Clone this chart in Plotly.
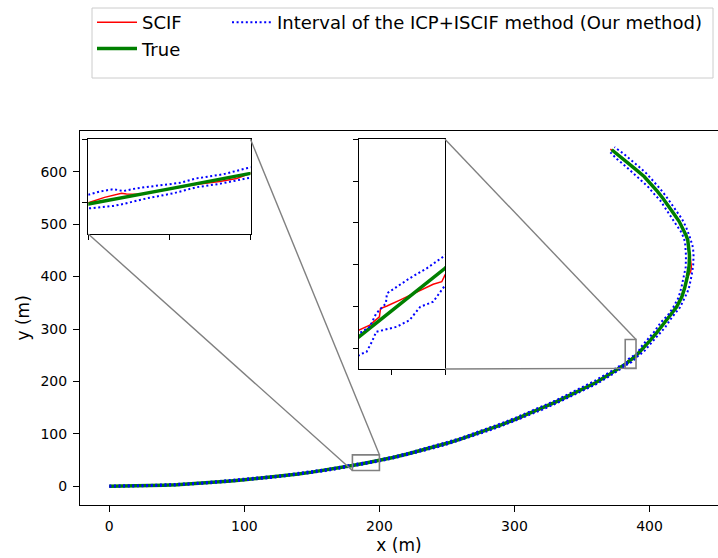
import plotly.graph_objects as go

# ---------------- data ----------------
true_x = [0, 10, 20, 30, 40, 50, 60, 70, 80, 90, 100, 110, 120, 130, 140, 150, 160, 170, 180,
          190, 200, 210, 220, 230, 240, 250, 260, 270, 280, 290, 300, 310, 320, 330, 340, 350, 360, 370,
          378, 382, 390, 395, 400, 405, 410, 415, 420, 424, 426, 428, 429.3, 429.6, 429.2, 428.3, 427, 425,
          422, 418, 414, 410, 406, 401, 396, 390, 384, 378, 372]
true_y = [0, 0.2, 0.6, 1.2, 2.0, 3.0, 4.5, 6.2, 8.2, 10.3, 12.5, 15.0, 17.6, 20.5, 23.6, 27.0, 30.8, 35.0, 39.5,
          44.3, 49.2, 54.8, 61.0, 67.5, 74.5, 82.0, 90.0, 98.5, 107.5, 117.0, 127.0, 137.5, 148.5, 160.0, 172.5, 185.0, 197.5, 213.0,
          226.0, 232.7, 249.1, 262.0, 277.0, 292.0, 308.0, 325.0, 342.0, 362.0, 378.0, 400.0, 420.0, 440.0, 455.0, 470.0, 479.0, 491.0,
          505.0, 520.0, 535.0, 549.0, 562.0, 577.0, 591.0, 604.0, 617.0, 630.0, 642.0]

scif_x = [0, 10, 20, 30, 40, 50, 60, 70, 80, 90, 100, 110, 120, 130, 140, 150, 160, 170,
          178, 180, 182, 184.1, 184.7, 186.5, 190, 193, 196.2, 198.3, 200,
          210, 220, 230, 240, 250, 260, 270, 280, 290, 300, 305, 310, 320, 330, 340, 350, 360, 370, 378,
          382, 383.0, 383.9, 384.0, 384.6, 385.8, 387.4, 388.9, 389.7, 390,
          391, 395, 400, 405, 410, 415, 420, 424, 426, 428,
          430.5, 431, 430, 429.2, 428.3, 427, 425, 422, 418, 414, 410, 406, 401, 396, 390, 384, 378, 371]
scif_y = [0.4, 0.1, 0.9, 1.0, 2.4, 2.7, 4.8, 6.0, 8.6, 10.0, 12.9, 14.7, 18.0, 20.2, 24.0, 26.7, 31.2, 34.6,
          38.6, 39.9, 41.6, 42.9, 42.7, 42.6, 44.3, 45.6, 46.6, 47.6, 49.2,
          54.2, 61.6, 67.0, 75.2, 81.4, 90.8, 97.8, 108.2, 116.2, 126.0, 130.0, 138.4, 147.8, 160.8, 171.6, 186.0, 196.8, 213.8, 227.6,
          234.3, 235.5, 237.5, 239.5, 240.1, 241.5, 243.5, 245.3, 245.9, 247.5,
          250.5, 261.0, 278.2, 290.5, 309.2, 323.8, 343.4, 361.0, 379.5, 398.0,
          410.0, 418.0, 440.0, 455.0, 469.0, 479.5, 490.0, 505.5, 519.0, 535.5, 548.0, 562.5, 576.0, 591.5, 603.5, 617.5, 629.0, 643.0]

# interval of the ICP+ISCIF method: inner bound
int_in_x = [0, 10, 20, 30, 40, 50, 60, 70, 80, 90, 100, 110, 120, 130, 140, 150, 160, 170,
            178, 180, 181.5, 183.1, 184.3, 186, 188.4, 191.3, 193.3, 196.6, 199.5, 202,
            210, 220, 230, 240, 250, 260, 270, 280, 290, 300, 310, 320, 330, 340, 350, 360, 370, 378,
            381, 382, 383.0, 383.6, 384.5, 384.6, 385.5, 386.7, 388.3, 389.7, 391,
            393.5, 398.5, 403.5, 408.5, 413.5, 417.5, 421.5, 423.5, 425.5, 426.8, 427, 426.7, 426.3,
            425, 423, 420, 416, 412, 408, 404, 399, 394, 388, 382, 376, 371]
int_in_y = [1.6, 1.3, 2.0, 2.5, 3.2, 4.3, 5.7, 7.5, 9.6, 11.6, 14.0, 16.4, 19.2, 22.0, 25.2, 28.6, 32.5, 36.7,
            41.0, 42.3, 43.5, 44.2, 43.6, 44.5, 45.2, 46.2, 47.6, 48.9, 50.8, 52.0,
            56.6, 62.8, 69.8, 76.5, 84.4, 92.2, 101.0, 110.0, 120.0, 130.0, 140.6, 152.0, 163.2, 176.0, 189.0, 202.0, 217.0, 230.0,
            231.5, 233.5, 235.1, 238.3, 240.7, 243.1, 244.7, 246.7, 249.1, 251.5, 254.0,
            265, 280, 295, 313, 326, 341, 360, 378, 402, 418, 440, 455, 466,
            476, 487, 498, 514, 529, 545, 556, 571, 583, 598, 611, 624, 637]

# interval of the ICP+ISCIF method: outer bound
int_out_x = [0, 10, 20, 30, 40, 50, 60, 70, 80, 90, 100, 110, 120, 130, 140, 150, 160, 170,
             178, 180, 183.1, 184.3, 187.2, 190.5, 193.3, 196.2, 199.5, 202,
             210, 220, 230, 240, 250, 260, 270, 280, 290, 300, 310, 320, 330, 340, 350, 360, 370, 378,
             381.5, 382.2, 382.7, 383.2, 383.6, 385.5, 386.7, 387.7, 388.9, 389.5, 390, 391,
             396.5, 401.5, 406.5, 411.5, 416.5, 422.5, 426.5, 429, 431, 432.3, 432.6, 432.2, 430.3,
             429, 427, 424, 420, 416, 412, 408, 403, 398, 392, 386, 380, 374]
int_out_y = [-1.2, -1.0, -0.6, 0.0, 0.9, 1.8, 3.2, 5.0, 6.8, 9.0, 11.0, 13.6, 16.0, 19.0, 22.0, 25.4, 29.0, 33.4,
             36.9, 38.1, 38.9, 39.5, 41.3, 42.9, 44.8, 45.9, 47.3, 48.4,
             53.0, 59.2, 65.6, 72.4, 79.8, 87.8, 96.0, 105.0, 114.4, 124.4, 134.6, 145.4, 157.0, 169.0, 182.0, 194.0, 209.4, 222.0,
             227.5, 228.6, 229.1, 231.5, 233.9, 235.1, 236.7, 239.9, 241.1, 243.1, 245.0, 247.0,
             259, 274, 289, 303, 322, 341, 362, 376, 400, 420, 440, 455, 472,
             482, 495, 510, 525, 540, 554, 567, 582, 596, 610, 623, 636, 647]

x_ticks = [0, 100, 200, 300, 400]
y_ticks = [0, 100, 200, 300, 400, 500, 600]

# zoom windows
zoom1_x = [180, 200]
zoom1_y = [30, 60]
zoom1_xticks = [180, 190, 200]
zoom1_yticks = [40, 60]
zoom2_x = [382, 390]
zoom2_y = [225, 280]
zoom2_xticks = [385, 390]
zoom2_yticks = [230, 240, 250, 260, 270, 280]

# ---------------- layout geometry ----------------
W, H = 718, 558
FONT = "DejaVu Sans"


def px(x):
    return x / W


def py(y):
    return 1 - y / H


main_xdom = [px(80), 1.0]
main_ydom = [py(505), py(130.7)]
main_xr = [-21.7, 450.7]
main_yr = [-35.7, 678.3]
in1_xdom = [px(88.3), px(250.5)]
in1_ydom = [py(234), py(139.3)]
in2_xdom = [px(359), px(445)]
in2_ydom = [py(369), py(139.3)]

RED = "#ff0000"
GREEN = "#008000"
BLUE = "#0000ff"
DOT = "2px,2.6px"

fig = go.Figure()

panels = [("x", "y", True), ("x2", "y2", False), ("x3", "y3", False)]
for xa, ya, main in panels:
    fig.add_trace(go.Scatter(x=scif_x, y=scif_y, mode="lines", name="SCIF",
                             line=dict(color=RED, width=1.5), xaxis=xa, yaxis=ya,
                             showlegend=main, legend="legend"))
    fig.add_trace(go.Scatter(x=true_x, y=true_y, mode="lines", name="True",
                             line=dict(color=GREEN, width=3.5), xaxis=xa, yaxis=ya,
                             showlegend=main, legend="legend"))
    fig.add_trace(go.Scatter(x=int_in_x, y=int_in_y, mode="lines",
                             name="Interval of the ICP+ISCIF method (Our method)",
                             line=dict(color=BLUE, width=2, dash=DOT), xaxis=xa, yaxis=ya,
                             showlegend=main, legend="legend2"))
    fig.add_trace(go.Scatter(x=int_out_x, y=int_out_y, mode="lines",
                             name="Interval of the ICP+ISCIF method (Our method)",
                             line=dict(color=BLUE, width=2, dash=DOT), xaxis=xa, yaxis=ya,
                             showlegend=False))

axis_common = dict(showgrid=False, zeroline=False, showline=True, linecolor="black",
                   linewidth=1, ticks="outside", tickcolor="black", tickwidth=1)

fig.update_layout(
    width=W, height=H,
    margin=dict(l=0, r=0, t=0, b=0),
    paper_bgcolor="white", plot_bgcolor="white",
    font=dict(family=FONT, size=14, color="black"),
    xaxis=dict(domain=main_xdom, range=main_xr, tickvals=x_ticks, ticklen=6, mirror=True,
               title=dict(text="x (m)", font=dict(size=17), standoff=6), automargin=False,
               anchor="y", ticklabelstandoff=2, **axis_common),
    yaxis=dict(domain=main_ydom, range=main_yr, tickvals=y_ticks, ticklen=6,
               title=dict(text="y (m)", font=dict(size=17), standoff=6), automargin=False,
               anchor="x", ticklabelstandoff=3, **axis_common),
    xaxis2=dict(domain=in1_xdom, range=zoom1_x, tickvals=zoom1_xticks, ticklen=5, mirror=True,
                showticklabels=False, anchor="y2", **axis_common),
    yaxis2=dict(domain=in1_ydom, range=zoom1_y, tickvals=zoom1_yticks, ticklen=5, mirror=True,
                showticklabels=False, anchor="x2", **axis_common),
    xaxis3=dict(domain=in2_xdom, range=zoom2_x, tickvals=zoom2_xticks, ticklen=5, mirror=True,
                showticklabels=False, anchor="y3", **axis_common),
    yaxis3=dict(domain=in2_ydom, range=zoom2_y, tickvals=zoom2_yticks, ticklen=5, mirror=True,
                showticklabels=False, anchor="x3", **axis_common),
    legend=dict(x=px(92), y=py(4), xanchor="left", yanchor="top", orientation="v",
                font=dict(family=FONT, size=18), bgcolor="rgba(0,0,0,0)", borderwidth=0,
                itemwidth=40, tracegroupgap=0),
    legend2=dict(x=px(227), y=py(4), xanchor="left", yanchor="top", orientation="v",
                 font=dict(family=FONT, size=18), bgcolor="rgba(0,0,0,0)", borderwidth=0,
                 itemwidth=40),
)


# convert paper pixel position to main data coordinates (for connector lines)
def to_data_x(pxv):
    f = (pxv / W - main_xdom[0]) / (main_xdom[1] - main_xdom[0])
    return main_xr[0] + f * (main_xr[1] - main_xr[0])


def to_data_y(pyv):
    f = (py(pyv) - main_ydom[0]) / (main_ydom[1] - main_ydom[0])
    return main_yr[0] + f * (main_yr[1] - main_yr[0])


GRAY = "#808080"
shapes = []
# zoom rectangles
for xr, yr in [(zoom1_x, zoom1_y), (zoom2_x, zoom2_y)]:
    shapes.append(dict(type="rect", xref="x", yref="y", x0=xr[0], x1=xr[1], y0=yr[0], y1=yr[1],
                       line=dict(color=GRAY, width=1.6), layer="above"))
# connectors: inset1 lower-left & upper-right, inset2 upper-right & lower-right
conns = [
    ((88.3, 234), (zoom1_x[0], zoom1_y[0])),
    ((250.5, 139.3), (zoom1_x[1], zoom1_y[1])),
    ((445, 139.3), (zoom2_x[1], zoom2_y[1])),
    ((445, 369), (zoom2_x[1], zoom2_y[0])),
]
for (cx, cy), (dx, dy) in conns:
    shapes.append(dict(type="line", xref="x", yref="y", x0=to_data_x(cx), y0=to_data_y(cy),
                       x1=dx, y1=dy, line=dict(color=GRAY, width=1.4), layer="above"))
# legend frame
shapes.append(dict(type="rect", xref="paper", yref="paper", x0=px(92), x1=px(713), y0=py(78), y1=py(8),
                   line=dict(color="#cccccc", width=1), fillcolor="white", layer="below"))
fig.update_layout(shapes=shapes)

fig.write_html("out.html")
